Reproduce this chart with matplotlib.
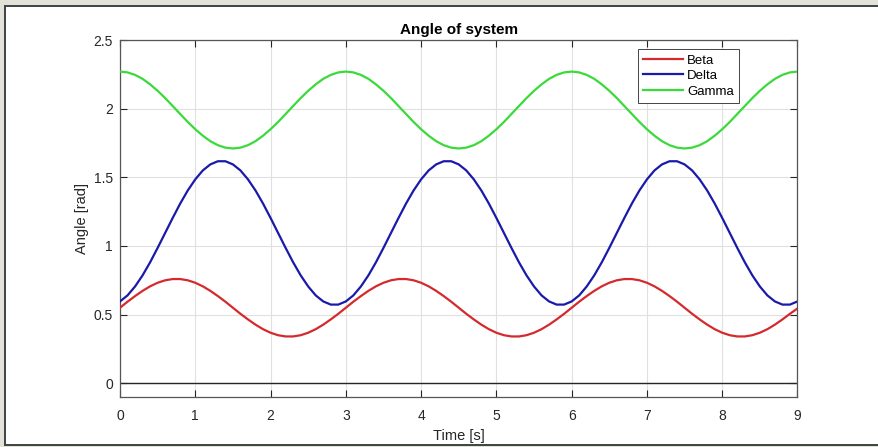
import numpy as np
import matplotlib
matplotlib.use("Agg")
import matplotlib.pyplot as plt
from matplotlib.patches import Rectangle

plt.rcParams['font.family'] = ['Liberation Sans', 'DejaVu Sans']

# time samples [s]
time = np.round(np.arange(0, 9.0001, 0.1), 2)

beta = [
    0.550, 0.594, 0.635, 0.673, 0.706, 0.732, 0.750, 0.759, 0.759, 0.750,
    0.732, 0.706, 0.673, 0.635, 0.594, 0.550, 0.506, 0.465, 0.427, 0.394,
    0.368, 0.350, 0.341, 0.341, 0.350, 0.368, 0.394, 0.427, 0.465, 0.506,
    0.550, 0.594, 0.635, 0.673, 0.706, 0.732, 0.750, 0.759, 0.759, 0.750,
    0.732, 0.706, 0.673, 0.635, 0.594, 0.550, 0.506, 0.465, 0.427, 0.394,
    0.368, 0.350, 0.341, 0.341, 0.350, 0.368, 0.394, 0.427, 0.465, 0.506,
    0.550, 0.594, 0.635, 0.673, 0.706, 0.732, 0.750, 0.759, 0.759, 0.750,
    0.732, 0.706, 0.673, 0.635, 0.594, 0.550, 0.506, 0.465, 0.427, 0.394,
    0.368, 0.350, 0.341, 0.341, 0.350, 0.368, 0.394, 0.427, 0.465, 0.506,
    0.545,
]

delta = [
    0.596, 0.640, 0.705, 0.786, 0.881, 0.986, 1.095, 1.204, 1.309, 1.404,
    1.485, 1.550, 1.594, 1.617, 1.617, 1.594, 1.550, 1.485, 1.404, 1.309,
    1.204, 1.095, 0.986, 0.881, 0.786, 0.705, 0.640, 0.596, 0.573, 0.573,
    0.596, 0.640, 0.705, 0.786, 0.881, 0.986, 1.095, 1.204, 1.309, 1.404,
    1.485, 1.550, 1.594, 1.617, 1.617, 1.594, 1.550, 1.485, 1.404, 1.309,
    1.204, 1.095, 0.986, 0.881, 0.786, 0.705, 0.640, 0.596, 0.573, 0.573,
    0.596, 0.640, 0.705, 0.786, 0.881, 0.986, 1.095, 1.204, 1.309, 1.404,
    1.485, 1.550, 1.594, 1.617, 1.617, 1.594, 1.550, 1.485, 1.404, 1.309,
    1.204, 1.095, 0.986, 0.881, 0.786, 0.705, 0.640, 0.596, 0.573, 0.573,
    0.596,
]

gamma = [
    2.270, 2.264, 2.246, 2.217, 2.177, 2.130, 2.077, 2.019, 1.961, 1.903,
    1.850, 1.803, 1.763, 1.734, 1.716, 1.710, 1.716, 1.734, 1.763, 1.803,
    1.850, 1.903, 1.961, 2.019, 2.077, 2.130, 2.177, 2.217, 2.246, 2.264,
    2.270, 2.264, 2.246, 2.217, 2.177, 2.130, 2.077, 2.019, 1.961, 1.903,
    1.850, 1.803, 1.763, 1.734, 1.716, 1.710, 1.716, 1.734, 1.763, 1.803,
    1.850, 1.903, 1.961, 2.019, 2.077, 2.130, 2.177, 2.217, 2.246, 2.264,
    2.270, 2.264, 2.246, 2.217, 2.177, 2.130, 2.077, 2.019, 1.961, 1.903,
    1.850, 1.803, 1.763, 1.734, 1.716, 1.710, 1.716, 1.734, 1.763, 1.803,
    1.850, 1.903, 1.961, 2.019, 2.077, 2.130, 2.177, 2.217, 2.246, 2.264,
    2.270,
]

series_names = ['Beta', 'Delta', 'Gamma']
series_colors = ['#d42a2e', '#1a1aaa', '#3ada3a']
x_ticks = [0, 1, 2, 3, 4, 5, 6, 7, 8, 9]
y_ticks = [0, 0.5, 1, 1.5, 2, 2.5]
y_tick_labels = ['0', '0.5', '1', '1.5', '2', '2.5']

W, H = 879, 447
fig = plt.figure(figsize=(W / 100, H / 100), dpi=100)
fig.patch.set_facecolor('#e2e2d8')

# white panel with dark border (right edge runs off the picture)
panel = Rectangle((5 / W, 1 - 445 / H), 1.2, (445 - 6) / H,
                  transform=fig.transFigure, facecolor='white',
                  edgecolor='#3a4444', linewidth=1.4, zorder=0)
fig.add_artist(panel)

ax = fig.add_axes([120 / W, 1 - 397 / H, (797.5 - 120) / W, (397 - 40) / H])
ax.set_facecolor('white')

axis_col = '#262626'
for name, vals, col in zip(series_names, [beta, delta, gamma], series_colors):
    ax.plot(time, vals, color=col, linewidth=1.6, label=name, zorder=3)

ax.axhline(0, color=axis_col, linewidth=1.0, zorder=2)

ax.set_xlim(0, 9)
ax.set_ylim(-0.1, 2.5)
ax.set_xticks(x_ticks)
ax.set_yticks(y_ticks)
ax.set_yticklabels(y_tick_labels)

ax.grid(True, color='#e0e0e0', linewidth=0.8)
ax.set_axisbelow(True)

ax.tick_params(axis='both', which='both', direction='in', length=5,
               width=0.8, color=axis_col, labelcolor=axis_col,
               labelsize=10, top=True, right=True)
ax.tick_params(axis='x', pad=9)
ax.tick_params(axis='y', pad=5)
for s in ax.spines.values():
    s.set_color('#555555')
    s.set_linewidth(0.9)

ax.set_title('Angle of system', fontsize=11, fontweight='bold',
             color='black', pad=4)
ax.set_xlabel('Time [s]', fontsize=10.5, color=axis_col, labelpad=4)
ax.set_ylabel('Angle [rad]', fontsize=10.5, color=axis_col)
ax.yaxis.set_label_coords((89 - 120) / 677.5, 0.5)

leg = ax.legend(loc='upper right', bbox_to_anchor=((739 - 120) / 677.5, 1 - 9 / 357),
                borderaxespad=0, fontsize=9.5, frameon=True, fancybox=False,
                framealpha=1, edgecolor=axis_col, handlelength=3.0,
                handletextpad=0.3, labelspacing=0.25, borderpad=0.4)
leg.get_frame().set_linewidth(0.6)
for txt in leg.get_texts():
    txt.set_color('black')

fig.savefig('out.png', dpi=100, facecolor=fig.get_facecolor())
